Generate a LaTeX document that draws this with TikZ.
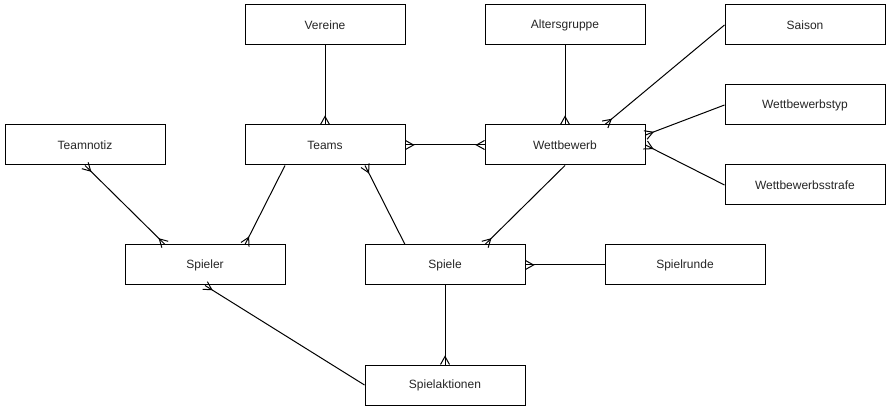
\documentclass[tikz,border=0pt]{standalone}
\usepackage{fontspec}
\setmainfont{Liberation Sans}
\usetikzlibrary{calc}
\tikzset{
  entity/.style={draw=black, line width=1pt, fill=white, minimum width=160pt, minimum height=40pt,
    inner sep=0pt, font=\fontsize{12}{14}\selectfont, text=black!85},
  rel/.style={draw=black, line width=1pt},
}
\newcommand{\crowfoot}[2]{%
  \draw[rel, line join=miter] ($(#1)!4.5pt!90:(#2)$) -- ($(#1)!8pt!(#2)$) -- ($(#1)!4.5pt!-90:(#2)$);}
\begin{document}
\begin{tikzpicture}[x=1pt,y=-1pt]
\useasboundingbox (0,0) rectangle (891,411);
\fill[white] (0,0) rectangle (891,411);
\node[entity] (vereine) at (325,25) {Vereine};
\node[entity] (alters) at (565,25) {Altersgruppe};
\node[entity] (saison) at (805,25) {Saison};
\node[entity] (wtyp) at (805,105) {Wettbewerbstyp};
\node[entity] (teamnotiz) at (85,145) {Teamnotiz};
\node[entity] (teams) at (325,145) {Teams};
\node[entity] (wettbewerb) at (565,145) {Wettbewerb};
\node[entity] (wstrafe) at (805,185) {Wettbewerbsstrafe};
\node[entity] (spieler) at (205,265) {Spieler};
\node[entity] (spiele) at (445,265) {Spiele};
\node[entity] (spielrunde) at (685,265) {Spielrunde};
\node[entity] (aktionen) at (445,385) {Spielaktionen};

% endpoints
\coordinate (ve) at (vereine.south);
\coordinate (teN) at (teams.north);
\coordinate (teE) at (teams.east);
\coordinate (wbW) at (wettbewerb.west);
\coordinate (alS) at (alters.south);
\coordinate (wbN) at (wettbewerb.north);
\coordinate (saW) at (saison.west);
\coordinate (wbNr) at ($(wettbewerb.north)+(40,0)$);
\coordinate (wtW) at (wtyp.west);
\coordinate (wbE1) at ($(wettbewerb.east)+(0,-10)$);
\coordinate (wsW) at (wstrafe.west);
\coordinate (wbE2) at (wettbewerb.east);
\coordinate (tnS) at (teamnotiz.south);
\coordinate (spNr) at ($(spieler.north)+(-40,0)$);
\coordinate (teSl) at ($(teams.south)+(-40,0)$);
\coordinate (spNl) at ($(spieler.north)+(40,0)$);
\coordinate (siNl) at ($(spiele.north)+(-40,0)$);
\coordinate (teSr) at ($(teams.south)+(40,0)$);
\coordinate (wbS) at (wettbewerb.south);
\coordinate (siNr) at ($(spiele.north)+(40,0)$);
\coordinate (srW) at (spielrunde.west);
\coordinate (siE) at (spiele.east);
\coordinate (siS) at (spiele.south);
\coordinate (akN) at (aktionen.north);
\coordinate (akW) at (aktionen.west);
\coordinate (spS) at (spieler.south);

\draw[rel] (ve) -- (teN); \crowfoot{teN}{ve}
\draw[rel] (teE) -- (wbW); \crowfoot{teE}{wbW} \crowfoot{wbW}{teE}
\draw[rel] (alS) -- (wbN); \crowfoot{wbN}{alS}
\draw[rel] (saW) -- (wbNr); \crowfoot{wbNr}{saW}
\draw[rel] (wtW) -- (wbE1); \crowfoot{wbE1}{wtW}
\draw[rel] (wsW) -- (wbE2); \crowfoot{wbE2}{wsW}
\draw[rel] (tnS) -- (spNr); \crowfoot{tnS}{spNr} \crowfoot{spNr}{tnS}
\draw[rel] (teSl) -- (spNl); \crowfoot{spNl}{teSl}
\draw[rel] (siNl) -- (teSr); \crowfoot{teSr}{siNl}
\draw[rel] (wbS) -- (siNr); \crowfoot{siNr}{wbS}
\draw[rel] (srW) -- (siE); \crowfoot{siE}{srW}
\draw[rel] (siS) -- (akN); \crowfoot{akN}{siS}
\draw[rel] (akW) -- (spS); \crowfoot{spS}{akW}
\end{tikzpicture}
\end{document}
